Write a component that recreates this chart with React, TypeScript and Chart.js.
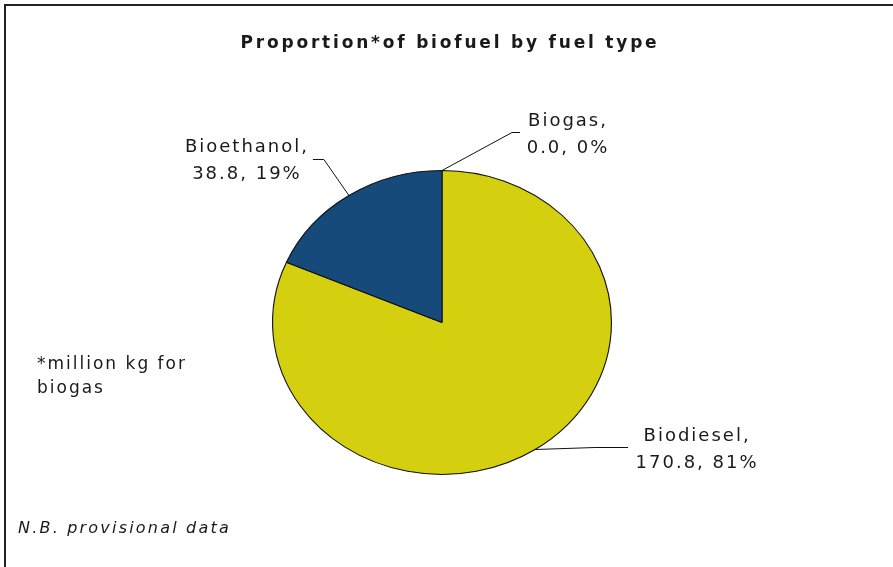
import React, { useEffect, useRef } from "react";
import { Chart, registerables } from "chart.js";

Chart.register(...registerables);

const categories = ["Biogas", "Biodiesel", "Bioethanol"];
const values = [0.0, 170.8, 38.8];
const percents = ["0%", "81%", "19%"];
const valueLabels = ["0.0", "170.8", "38.8"];
const colors = ["#1a4a7a", "#d4d010", "#164a7b"];

const titleText = "Proportion*of biofuel by fuel type";
const noteLines = ["*million kg for", "biogas"];
const footText = "N.B. provisional data";

// leader-line / label placement relative to each slice's outer edge
const labelLayout = [
  { elbowDx: 70, elbowDy: -38, endDx: 8, textDx: 48 },
  { elbowDx: 60, elbowDy: -2, endDx: 33, textDx: 69 },
  { elbowDx: -25, elbowDy: -36, endDx: -11, textDx: -66 },
];

const W = 893;
const H = 567;
const CX = 442;
const CY = 322.5;
const RY = 152.5;
const SX = 170 / 152.5;

const FONT = '"DejaVu Sans", Verdana, sans-serif';

export default function App() {
  const ref = useRef<HTMLCanvasElement | null>(null);
  useEffect(() => {
    const canvas = ref.current;
    if (!canvas) return;

    const stretch = {
      id: "stretch",
      beforeDatasetsDraw(chart: any) {
        const ctx = chart.ctx;
        const a = chart.chartArea;
        const cx = (a.left + a.right) / 2;
        const cy = (a.top + a.bottom) / 2;
        ctx.save();
        ctx.translate(cx, cy);
        ctx.scale(SX, 1);
        ctx.translate(-cx, -cy);
      },
      afterDatasetsDraw(chart: any) {
        chart.ctx.restore();
      },
    };

    const texts = {
      id: "texts",
      afterDraw(chart: any) {
        const ctx = chart.ctx;
        ctx.save();
        // frame
        ctx.strokeStyle = "#222";
        ctx.lineWidth = 2;
        ctx.beginPath();
        ctx.moveTo(5, H);
        ctx.lineTo(5, 5);
        ctx.lineTo(W, 5);
        ctx.stroke();

        ctx.fillStyle = "#1a1a1a";
        // title
        ctx.font = `bold 17px ${FONT}`;
        (ctx as any).letterSpacing = "2.8px";
        ctx.textAlign = "center";
        ctx.textBaseline = "alphabetic";
        ctx.fillText(titleText, 450, 48);

        // labels
        ctx.font = `18px ${FONT}`;
        (ctx as any).letterSpacing = "2px";
        const meta = chart.getDatasetMeta(0);
        meta.data.forEach((arc: any, i: number) => {
          const p = arc.getProps(["x", "y", "startAngle", "endAngle", "outerRadius"], true);
          const mid = (p.startAngle + p.endAngle) / 2;
          const ex = p.x + SX * p.outerRadius * Math.cos(mid);
          const ey = p.y + p.outerRadius * Math.sin(mid);
          const L = labelLayout[i];
          const bx = ex + L.elbowDx;
          const by = ey + L.elbowDy;
          const fx = bx + L.endDx;
          ctx.strokeStyle = "#111";
          ctx.lineWidth = 1;
          ctx.beginPath();
          ctx.moveTo(ex, ey);
          ctx.lineTo(bx, by);
          ctx.lineTo(fx, by);
          ctx.stroke();
          const tx = fx + L.textDx;
          ctx.textAlign = "center";
          ctx.fillText(categories[i] + ",", tx, by - 7);
          ctx.fillText(valueLabels[i] + ", " + percents[i], tx, by + 20);
        });

        // note
        ctx.textAlign = "left";
        ctx.font = `17px ${FONT}`;
        (ctx as any).letterSpacing = "2px";
        ctx.fillText(noteLines[0], 37, 369);
        ctx.fillText(noteLines[1], 37, 393);

        ctx.font = `italic 16px ${FONT}`;
        (ctx as any).letterSpacing = "2.2px";
        ctx.fillText(footText, 18, 533);
        ctx.restore();
      },
    };

    const chart = new Chart(canvas, {
      type: "pie",
      data: {
        labels: categories,
        datasets: [
          {
            data: values,
            backgroundColor: colors,
            borderColor: "#111",
            borderWidth: 1,
          },
        ],
      },
      options: {
        responsive: false,
        animation: false,
        events: [],
        layout: {
          padding: {
            left: CX - RY,
            right: W - CX - RY,
            top: CY - RY,
            bottom: H - CY - RY,
          },
        },
        plugins: {
          legend: { display: false },
          title: { display: false },
          tooltip: { enabled: false },
        },
      },
      plugins: [stretch, texts],
    });
    return () => chart.destroy();
  }, []);

  return (
    <div style={{ position: "absolute", left: 0, top: 0, width: W, height: H, background: "#fff" }}>
      <canvas ref={ref} width={W} height={H} style={{ width: W, height: H, display: "block" }} />
    </div>
  );
}
